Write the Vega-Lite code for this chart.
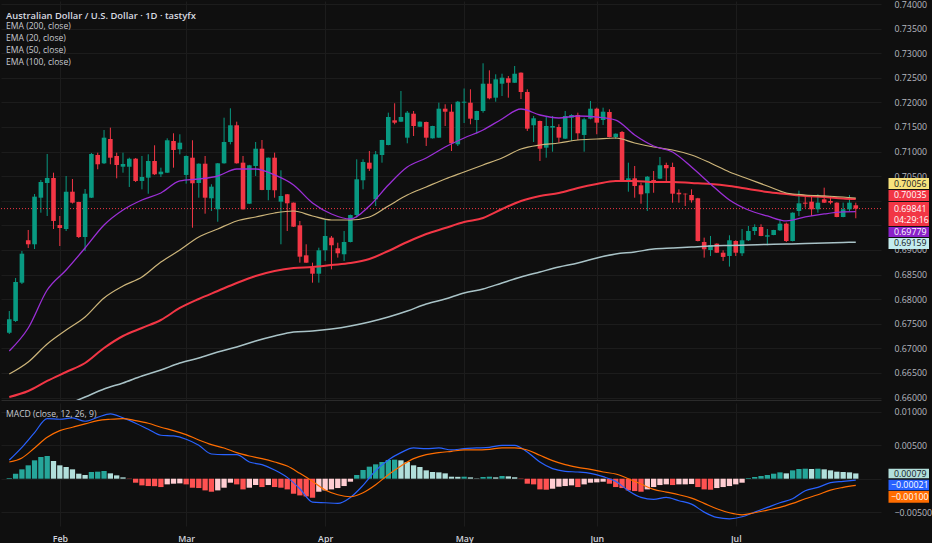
{
  "$schema": "https://vega.github.io/schema/vega-lite/v6.json",
  "background": "#0f0f0f",
  "padding": {"left": 0, "top": 0, "right": 0, "bottom": 0},
  "autosize": {"type": "pad"},
  "spacing": 0,
  "config": {
    "view": {"stroke": null},
    "font": "Open Sans",
    "axis": {"labelFont": "Open Sans", "gridColor": "#1c1c1c", "gridWidth": 1, "labelOverlap": false}
  },
  "resolve": {"scale": {"x": "independent", "y": "independent"}},
  "datasets": {
    "bars": [
      {"i":0,"o":0.67319,"h":0.6776,"l":0.67293,"c":0.67592,"hist":0.0001,"hc":"up+"},
      {"i":1,"o":0.67557,"h":0.68431,"l":0.67537,"c":0.6835,"hist":0.00075,"hc":"up+"},
      {"i":2,"o":0.68336,"h":0.6898,"l":0.68309,"c":0.68925,"hist":0.0014,"hc":"up+"},
      {"i":3,"o":0.69198,"h":0.69407,"l":0.69041,"c":0.69116,"hist":0.002,"hc":"up+"},
      {"i":4,"o":0.69116,"h":0.70138,"l":0.6902,"c":0.70084,"hist":0.00275,"hc":"up+"},
      {"i":5,"o":0.70063,"h":0.70423,"l":0.69758,"c":0.70382,"hist":0.00325,"hc":"up+"},
      {"i":6,"o":0.70362,"h":0.70951,"l":0.69691,"c":0.70464,"hist":0.0034,"hc":"up+"},
      {"i":7,"o":0.70464,"h":0.70571,"l":0.69427,"c":0.6959,"hist":0.00265,"hc":"down+"},
      {"i":8,"o":0.69508,"h":0.69691,"l":0.69081,"c":0.69447,"hist":0.002,"hc":"down+"},
      {"i":9,"o":0.69427,"h":0.70504,"l":0.69386,"c":0.70185,"hist":0.00175,"hc":"down+"},
      {"i":10,"o":0.70185,"h":0.70443,"l":0.69945,"c":0.69962,"hist":0.0014,"hc":"down+"},
      {"i":11,"o":0.69976,"h":0.6998,"l":0.69244,"c":0.69264,"hist":0.00075,"hc":"down+"},
      {"i":12,"o":0.69264,"h":0.7024,"l":0.6898,"c":0.70144,"hist":0.00055,"hc":"down+"},
      {"i":13,"o":0.70063,"h":0.70972,"l":0.70057,"c":0.70951,"hist":0.001,"hc":"up+"},
      {"i":14,"o":0.70931,"h":0.70978,"l":0.7064,"c":0.70742,"hist":0.00105,"hc":"up+"},
      {"i":15,"o":0.70762,"h":0.71439,"l":0.70748,"c":0.71283,"hist":0.00115,"hc":"up+"},
      {"i":16,"o":0.71256,"h":0.71486,"l":0.70742,"c":0.70876,"hist":0.0008,"hc":"down+"},
      {"i":17,"o":0.70911,"h":0.70978,"l":0.70457,"c":0.70728,"hist":0.0005,"hc":"down+"},
      {"i":18,"o":0.70693,"h":0.70978,"l":0.70571,"c":0.70748,"hist":0.0002,"hc":"down+"},
      {"i":19,"o":0.70693,"h":0.70876,"l":0.70281,"c":0.70856,"hist":-0.00005,"hc":"down-"},
      {"i":20,"o":0.70856,"h":0.7087,"l":0.70382,"c":0.70403,"hist":-0.0006,"hc":"down-"},
      {"i":21,"o":0.70403,"h":0.70911,"l":0.70233,"c":0.70484,"hist":-0.001,"hc":"down-"},
      {"i":22,"o":0.7047,"h":0.70945,"l":0.70144,"c":0.70809,"hist":-0.0011,"hc":"down-"},
      {"i":23,"o":0.70809,"h":0.71128,"l":0.70525,"c":0.70539,"hist":-0.00112,"hc":"down-"},
      {"i":24,"o":0.70539,"h":0.70673,"l":0.70484,"c":0.70592,"hist":-0.00125,"hc":"down-"},
      {"i":25,"o":0.70571,"h":0.7127,"l":0.70565,"c":0.7123,"hist":-0.00085,"hc":"up-"},
      {"i":26,"o":0.71216,"h":0.71372,"l":0.70673,"c":0.71033,"hist":-0.00075,"hc":"up-"},
      {"i":27,"o":0.71047,"h":0.71352,"l":0.70945,"c":0.71181,"hist":-0.0007,"hc":"up-"},
      {"i":28,"o":0.70525,"h":0.70921,"l":0.70348,"c":0.70911,"hist":-0.00085,"hc":"down-"},
      {"i":29,"o":0.70876,"h":0.7123,"l":0.69453,"c":0.70356,"hist":-0.00135,"hc":"down-"},
      {"i":30,"o":0.70362,"h":0.7076,"l":0.70063,"c":0.70754,"hist":-0.0014,"hc":"down-"},
      {"i":31,"o":0.70754,"h":0.70911,"l":0.69738,"c":0.70063,"hist":-0.00175,"hc":"down-"},
      {"i":32,"o":0.70051,"h":0.70336,"l":0.69793,"c":0.70287,"hist":-0.00195,"hc":"down-"},
      {"i":33,"o":0.69827,"h":0.70768,"l":0.69575,"c":0.70762,"hist":-0.00175,"hc":"up-"},
      {"i":34,"o":0.70762,"h":0.71689,"l":0.70755,"c":0.71195,"hist":-0.00135,"hc":"up-"},
      {"i":35,"o":0.71195,"h":0.7188,"l":0.71148,"c":0.71535,"hist":-0.0006,"hc":"up-"},
      {"i":36,"o":0.71535,"h":0.71608,"l":0.70755,"c":0.70762,"hist":-0.00085,"hc":"down-"},
      {"i":37,"o":0.70775,"h":0.70911,"l":0.6982,"c":0.69827,"hist":-0.0016,"hc":"down-"},
      {"i":38,"o":0.69941,"h":0.7073,"l":0.69935,"c":0.70722,"hist":-0.00135,"hc":"up-"},
      {"i":39,"o":0.70707,"h":0.71195,"l":0.70504,"c":0.71059,"hist":-0.00095,"hc":"up-"},
      {"i":40,"o":0.71059,"h":0.71236,"l":0.70215,"c":0.7022,"hist":-0.00125,"hc":"down-"},
      {"i":41,"o":0.7022,"h":0.7088,"l":0.7001,"c":0.70876,"hist":-0.00095,"hc":"up-"},
      {"i":42,"o":0.70876,"h":0.70978,"l":0.70063,"c":0.70214,"hist":-0.00125,"hc":"down-"},
      {"i":43,"o":0.69982,"h":0.7062,"l":0.69116,"c":0.70098,"hist":-0.00135,"hc":"down-"},
      {"i":44,"o":0.70132,"h":0.70138,"l":0.69386,"c":0.69949,"hist":-0.0016,"hc":"down-"},
      {"i":45,"o":0.69962,"h":0.69965,"l":0.69468,"c":0.69474,"hist":-0.00225,"hc":"down-"},
      {"i":46,"o":0.69502,"h":0.6959,"l":0.68742,"c":0.68864,"hist":-0.0025,"hc":"down-"},
      {"i":47,"o":0.68892,"h":0.69116,"l":0.68738,"c":0.68742,"hist":-0.00265,"hc":"down-"},
      {"i":48,"o":0.68641,"h":0.68742,"l":0.68336,"c":0.68518,"hist":-0.00285,"hc":"down-"},
      {"i":49,"o":0.68518,"h":0.69047,"l":0.68336,"c":0.68994,"hist":-0.00195,"hc":"up-"},
      {"i":50,"o":0.68994,"h":0.69624,"l":0.68777,"c":0.69285,"hist":-0.00175,"hc":"up-"},
      {"i":51,"o":0.69251,"h":0.69285,"l":0.68607,"c":0.69096,"hist":-0.0016,"hc":"up-"},
      {"i":52,"o":0.69035,"h":0.69148,"l":0.68845,"c":0.68933,"hist":-0.0014,"hc":"up-"},
      {"i":53,"o":0.68913,"h":0.69386,"l":0.68777,"c":0.69163,"hist":-0.0011,"hc":"up-"},
      {"i":54,"o":0.69163,"h":0.6972,"l":0.69155,"c":0.69711,"hist":-0.00045,"hc":"up-"},
      {"i":55,"o":0.69711,"h":0.70843,"l":0.69657,"c":0.70437,"hist":0.00055,"hc":"up+"},
      {"i":56,"o":0.70417,"h":0.70843,"l":0.70233,"c":0.70789,"hist":0.0013,"hc":"up+"},
      {"i":57,"o":0.70775,"h":0.71012,"l":0.70606,"c":0.70652,"hist":0.0018,"hc":"up+"},
      {"i":58,"o":0.7003,"h":0.71012,"l":0.69894,"c":0.70945,"hist":0.00215,"hc":"up+"},
      {"i":59,"o":0.70931,"h":0.7124,"l":0.70775,"c":0.71236,"hist":0.0025,"hc":"up+"},
      {"i":60,"o":0.71134,"h":0.71791,"l":0.71128,"c":0.71703,"hist":0.0028,"hc":"up+"},
      {"i":61,"o":0.71636,"h":0.71982,"l":0.71555,"c":0.71588,"hist":0.00285,"hc":"up+"},
      {"i":62,"o":0.71608,"h":0.72232,"l":0.716,"c":0.71703,"hist":0.00275,"hc":"down+"},
      {"i":63,"o":0.71283,"h":0.71825,"l":0.71169,"c":0.71791,"hist":0.0025,"hc":"down+"},
      {"i":64,"o":0.7177,"h":0.71825,"l":0.71317,"c":0.7152,"hist":0.002,"hc":"down+"},
      {"i":65,"o":0.71506,"h":0.71615,"l":0.715,"c":0.71608,"hist":0.00175,"hc":"down+"},
      {"i":66,"o":0.71602,"h":0.7161,"l":0.71114,"c":0.71283,"hist":0.00125,"hc":"down+"},
      {"i":67,"o":0.7127,"h":0.71525,"l":0.71265,"c":0.7152,"hist":0.001,"hc":"down+"},
      {"i":68,"o":0.71283,"h":0.71994,"l":0.7128,"c":0.71872,"hist":0.00095,"hc":"down+"},
      {"i":69,"o":0.71872,"h":0.71962,"l":0.7152,"c":0.71811,"hist":0.0008,"hc":"down+"},
      {"i":70,"o":0.71811,"h":0.71962,"l":0.71012,"c":0.71169,"hist":0.0003,"hc":"down+"},
      {"i":71,"o":0.71148,"h":0.72029,"l":0.71114,"c":0.72014,"hist":0.00028,"hc":"down+"},
      {"i":72,"o":0.71994,"h":0.72283,"l":0.71581,"c":0.72014,"hist":0.0003,"hc":"up+"},
      {"i":73,"o":0.71994,"h":0.72266,"l":0.71555,"c":0.71669,"hist":0.0002,"hc":"down+"},
      {"i":74,"o":0.71642,"h":0.7183,"l":0.71364,"c":0.71825,"hist":0.00005,"hc":"down+"},
      {"i":75,"o":0.71825,"h":0.72795,"l":0.71791,"c":0.7238,"hist":0.00025,"hc":"up+"},
      {"i":76,"o":0.7238,"h":0.72652,"l":0.72063,"c":0.72083,"hist":0.0003,"hc":"up+"},
      {"i":77,"o":0.72096,"h":0.72571,"l":0.72014,"c":0.72469,"hist":0.0002,"hc":"down+"},
      {"i":78,"o":0.7238,"h":0.72583,"l":0.7213,"c":0.72502,"hist":0.0004,"hc":"up+"},
      {"i":79,"o":0.7249,"h":0.72537,"l":0.72096,"c":0.724,"hist":0.00035,"hc":"down+"},
      {"i":80,"o":0.724,"h":0.7274,"l":0.72395,"c":0.72583,"hist":0.0002,"hc":"down+"},
      {"i":81,"o":0.72604,"h":0.7261,"l":0.72069,"c":0.72211,"hist":-0.00005,"hc":"down-"},
      {"i":82,"o":0.72211,"h":0.72266,"l":0.71419,"c":0.71466,"hist":-0.00075,"hc":"down-"},
      {"i":83,"o":0.71535,"h":0.71724,"l":0.71195,"c":0.71677,"hist":-0.00085,"hc":"down-"},
      {"i":84,"o":0.71622,"h":0.7163,"l":0.70809,"c":0.71059,"hist":-0.0016,"hc":"down-"},
      {"i":85,"o":0.7108,"h":0.71724,"l":0.70876,"c":0.7152,"hist":-0.00165,"hc":"down-"},
      {"i":86,"o":0.71486,"h":0.71724,"l":0.70998,"c":0.7152,"hist":-0.0015,"hc":"up-"},
      {"i":87,"o":0.715,"h":0.71555,"l":0.71181,"c":0.71283,"hist":-0.0012,"hc":"up-"},
      {"i":88,"o":0.71263,"h":0.71825,"l":0.71255,"c":0.71724,"hist":-0.0011,"hc":"up-"},
      {"i":89,"o":0.71689,"h":0.71758,"l":0.71216,"c":0.71744,"hist":-0.001,"hc":"up-"},
      {"i":90,"o":0.71744,"h":0.71791,"l":0.71236,"c":0.71372,"hist":-0.00125,"hc":"down-"},
      {"i":91,"o":0.71338,"h":0.71689,"l":0.70998,"c":0.71656,"hist":-0.00085,"hc":"up-"},
      {"i":92,"o":0.71669,"h":0.72029,"l":0.71656,"c":0.71872,"hist":-0.0006,"hc":"up-"},
      {"i":93,"o":0.71872,"h":0.71893,"l":0.71352,"c":0.71588,"hist":-0.00055,"hc":"up-"},
      {"i":94,"o":0.71642,"h":0.71893,"l":0.71541,"c":0.71811,"hist":-0.00045,"hc":"up-"},
      {"i":95,"o":0.71805,"h":0.71859,"l":0.7129,"c":0.71297,"hist":-0.00075,"hc":"down-"},
      {"i":96,"o":0.71297,"h":0.7137,"l":0.71256,"c":0.71364,"hist":-0.00125,"hc":"down-"},
      {"i":97,"o":0.71399,"h":0.71419,"l":0.70415,"c":0.70423,"hist":-0.0014,"hc":"down-"},
      {"i":98,"o":0.70423,"h":0.70775,"l":0.70185,"c":0.70457,"hist":-0.00175,"hc":"down-"},
      {"i":99,"o":0.70457,"h":0.70707,"l":0.70063,"c":0.70301,"hist":-0.00185,"hc":"down-"},
      {"i":100,"o":0.70315,"h":0.70368,"l":0.69941,"c":0.70132,"hist":-0.00195,"hc":"down-"},
      {"i":101,"o":0.70153,"h":0.70504,"l":0.69793,"c":0.7049,"hist":-0.0016,"hc":"up-"},
      {"i":102,"o":0.70423,"h":0.70606,"l":0.70164,"c":0.70403,"hist":-0.00125,"hc":"up-"},
      {"i":103,"o":0.7045,"h":0.7089,"l":0.7044,"c":0.70722,"hist":-0.00095,"hc":"up-"},
      {"i":104,"o":0.70728,"h":0.70775,"l":0.70403,"c":0.70661,"hist":-0.00085,"hc":"up-"},
      {"i":105,"o":0.70687,"h":0.70775,"l":0.69962,"c":0.70144,"hist":-0.00095,"hc":"down-"},
      {"i":106,"o":0.70164,"h":0.70233,"l":0.69962,"c":0.70132,"hist":-0.00085,"hc":"up-"},
      {"i":107,"o":0.70144,"h":0.7015,"l":0.69894,"c":0.70132,"hist":-0.00085,"hc":"up-"},
      {"i":108,"o":0.70118,"h":0.70233,"l":0.69962,"c":0.7001,"hist":-0.0008,"hc":"up-"},
      {"i":109,"o":0.70051,"h":0.7006,"l":0.69175,"c":0.69183,"hist":-0.00125,"hc":"down-"},
      {"i":110,"o":0.69163,"h":0.69251,"l":0.68845,"c":0.69014,"hist":-0.0016,"hc":"down-"},
      {"i":111,"o":0.69,"h":0.69285,"l":0.68878,"c":0.69102,"hist":-0.00165,"hc":"down-"},
      {"i":112,"o":0.69128,"h":0.69135,"l":0.6894,"c":0.68945,"hist":-0.0014,"hc":"up-"},
      {"i":113,"o":0.68945,"h":0.68994,"l":0.68777,"c":0.68859,"hist":-0.00125,"hc":"up-"},
      {"i":114,"o":0.68878,"h":0.69299,"l":0.68662,"c":0.69197,"hist":-0.0011,"hc":"up-"},
      {"i":115,"o":0.69183,"h":0.69197,"l":0.68878,"c":0.68945,"hist":-0.00085,"hc":"up-"},
      {"i":116,"o":0.68933,"h":0.69427,"l":0.68878,"c":0.69197,"hist":-0.0006,"hc":"up-"},
      {"i":117,"o":0.69197,"h":0.69488,"l":0.69183,"c":0.69386,"hist":0.0001,"hc":"up+"},
      {"i":118,"o":0.69386,"h":0.69522,"l":0.69305,"c":0.69468,"hist":0.00025,"hc":"up+"},
      {"i":119,"o":0.69468,"h":0.69522,"l":0.6928,"c":0.69285,"hist":0.0004,"hc":"up+"},
      {"i":120,"o":0.69271,"h":0.69427,"l":0.69096,"c":0.69299,"hist":0.00055,"hc":"up+"},
      {"i":121,"o":0.69305,"h":0.6941,"l":0.693,"c":0.69407,"hist":0.00075,"hc":"up+"},
      {"i":122,"o":0.694,"h":0.69624,"l":0.69386,"c":0.69535,"hist":0.00095,"hc":"up+"},
      {"i":123,"o":0.69535,"h":0.69556,"l":0.69163,"c":0.69183,"hist":0.0008,"hc":"down+"},
      {"i":124,"o":0.69183,"h":0.69765,"l":0.69175,"c":0.69758,"hist":0.00125,"hc":"up+"},
      {"i":125,"o":0.69793,"h":0.70207,"l":0.69691,"c":0.69949,"hist":0.00145,"hc":"up+"},
      {"i":126,"o":0.69962,"h":0.70098,"l":0.6986,"c":0.69941,"hist":0.0015,"hc":"up+"},
      {"i":127,"o":0.69982,"h":0.70112,"l":0.69691,"c":0.69827,"hist":0.00145,"hc":"down+"},
      {"i":128,"o":0.69827,"h":0.70132,"l":0.69758,"c":0.69962,"hist":0.0015,"hc":"up+"},
      {"i":129,"o":0.7003,"h":0.70267,"l":0.69955,"c":0.69962,"hist":0.0014,"hc":"down+"},
      {"i":130,"o":0.69996,"h":0.70098,"l":0.69929,"c":0.69962,"hist":0.00125,"hc":"down+"},
      {"i":131,"o":0.69962,"h":0.6997,"l":0.69665,"c":0.69671,"hist":0.00105,"hc":"down+"},
      {"i":132,"o":0.69671,"h":0.69962,"l":0.69665,"c":0.69827,"hist":0.001,"hc":"down+"},
      {"i":133,"o":0.69827,"h":0.70118,"l":0.69793,"c":0.69962,"hist":0.00095,"hc":"down+"},
      {"i":134,"o":0.69909,"h":0.69962,"l":0.69645,"c":0.69841,"hist":0.00079,"hc":"down+"}
    ],
    "ema": [
      {"i":0,"e20":0.66947,"e50":0.6648,"e100":0.66012,"e200":null},
      {"i":3,"e20":0.67415,"e50":0.66724,"e100":0.66134,"e200":null},
      {"i":6,"e20":0.68187,"e50":0.6709,"e100":0.66338,"e200":null},
      {"i":9,"e20":0.68594,"e50":0.67374,"e100":0.6652,"e200":0.6585},
      {"i":12,"e20":0.69041,"e50":0.67638,"e100":0.66703,"e200":0.66012},
      {"i":15,"e20":0.69508,"e50":0.68025,"e100":0.67008,"e200":0.66175},
      {"i":18,"e20":0.69813,"e50":0.68268,"e100":0.67252,"e200":0.66297},
      {"i":21,"e20":0.70016,"e50":0.68451,"e100":0.67415,"e200":0.66439},
      {"i":24,"e20":0.70159,"e50":0.68756,"e100":0.67577,"e200":0.66561},
      {"i":27,"e20":0.70403,"e50":0.69,"e100":0.67821,"e200":0.66703},
      {"i":30,"e20":0.70443,"e50":0.69264,"e100":0.68004,"e200":0.66805},
      {"i":33,"e20":0.70504,"e50":0.69427,"e100":0.68167,"e200":0.66927},
      {"i":36,"e20":0.70646,"e50":0.6959,"e100":0.6833,"e200":0.67029},
      {"i":39,"e20":0.70646,"e50":0.69671,"e100":0.68472,"e200":0.6715},
      {"i":42,"e20":0.70525,"e50":0.69752,"e100":0.68573,"e200":0.67252},
      {"i":45,"e20":0.70321,"e50":0.69793,"e100":0.68634,"e200":0.67333},
      {"i":48,"e20":0.69955,"e50":0.69691,"e100":0.68654,"e200":0.67354},
      {"i":51,"e20":0.69732,"e50":0.6961,"e100":0.68695,"e200":0.67394},
      {"i":54,"e20":0.6963,"e50":0.6961,"e100":0.68736,"e200":0.67455},
      {"i":57,"e20":0.69894,"e50":0.69671,"e100":0.68817,"e200":0.67537},
      {"i":60,"e20":0.70321,"e50":0.69894,"e100":0.6898,"e200":0.67638},
      {"i":63,"e20":0.70687,"e50":0.70118,"e100":0.69163,"e200":0.6776},
      {"i":66,"e20":0.7087,"e50":0.70281,"e100":0.69325,"e200":0.67903},
      {"i":69,"e20":0.71093,"e50":0.70443,"e100":0.69447,"e200":0.68004},
      {"i":72,"e20":0.71276,"e50":0.70585,"e100":0.69569,"e200":0.68126},
      {"i":75,"e20":0.71439,"e50":0.70728,"e100":0.69651,"e200":0.68207},
      {"i":78,"e20":0.71663,"e50":0.7087,"e100":0.69833,"e200":0.6833},
      {"i":81,"e20":0.71866,"e50":0.71053,"e100":0.69996,"e200":0.68451},
      {"i":84,"e20":0.71744,"e50":0.71134,"e100":0.70098,"e200":0.68553},
      {"i":87,"e20":0.71683,"e50":0.71175,"e100":0.70159,"e200":0.68654},
      {"i":90,"e20":0.71724,"e50":0.71236,"e100":0.7026,"e200":0.68736},
      {"i":93,"e20":0.71703,"e50":0.71256,"e100":0.70342,"e200":0.68838},
      {"i":96,"e20":0.71642,"e50":0.71276,"e100":0.70403,"e200":0.68919},
      {"i":99,"e20":0.71338,"e50":0.71175,"e100":0.70403,"e200":0.6896},
      {"i":102,"e20":0.71114,"e50":0.71093,"e100":0.70382,"e200":0.6902},
      {"i":105,"e20":0.70992,"e50":0.71033,"e100":0.70382,"e200":0.69041},
      {"i":108,"e20":0.70687,"e50":0.70931,"e100":0.70362,"e200":0.69061},
      {"i":111,"e20":0.70342,"e50":0.70768,"e100":0.70342,"e200":0.69081},
      {"i":114,"e20":0.70016,"e50":0.70585,"e100":0.70301,"e200":0.69092},
      {"i":117,"e20":0.69813,"e50":0.70443,"e100":0.7024,"e200":0.69102},
      {"i":120,"e20":0.69691,"e50":0.70301,"e100":0.70179,"e200":0.69112},
      {"i":123,"e20":0.6959,"e50":0.70159,"e100":0.70138,"e200":0.69122},
      {"i":126,"e20":0.69671,"e50":0.70118,"e100":0.70098,"e200":0.6913},
      {"i":129,"e20":0.69732,"e50":0.70098,"e100":0.70077,"e200":0.69143},
      {"i":132,"e20":0.69773,"e50":0.70077,"e100":0.70048,"e200":0.69153},
      {"i":134,"e20":0.69779,"e50":0.70056,"e100":0.70035,"e200":0.69159}
    ],
    "macd": [
      {"i":0,"macd":0.0028,"signal":0.0025},{"i":2,"macd":0.0047,"signal":0.0031},
      {"i":4,"macd":0.0069,"signal":0.0046},{"i":6,"macd":0.009,"signal":0.0062},
      {"i":8,"macd":0.0089,"signal":0.0072},{"i":10,"macd":0.0091,"signal":0.0077},
      {"i":12,"macd":0.0086,"signal":0.0082},{"i":14,"macd":0.0092,"signal":0.0087},
      {"i":16,"macd":0.0097,"signal":0.0089},{"i":18,"macd":0.0091,"signal":0.009},
      {"i":20,"macd":0.0083,"signal":0.0087},{"i":22,"macd":0.0074,"signal":0.0083},
      {"i":24,"macd":0.0065,"signal":0.0077},{"i":26,"macd":0.0064,"signal":0.0072},
      {"i":28,"macd":0.0059,"signal":0.0066},{"i":30,"macd":0.005,"signal":0.0058},
      {"i":32,"macd":0.0037,"signal":0.0051},{"i":34,"macd":0.0036,"signal":0.0046},
      {"i":36,"macd":0.0036,"signal":0.0039},{"i":38,"macd":0.0025,"signal":0.0034},
      {"i":40,"macd":0.0021,"signal":0.003},{"i":42,"macd":0.0013,"signal":0.0025},
      {"i":44,"macd":0.0002,"signal":0.0019},{"i":46,"macd":-0.0015,"signal":0.0008},
      {"i":48,"macd":-0.0035,"signal":-0.0004},{"i":50,"macd":-0.0036,"signal":-0.0017},
      {"i":52,"macd":-0.0037,"signal":-0.0024},{"i":54,"macd":-0.0028,"signal":-0.0027},
      {"i":56,"macd":-0.001,"signal":-0.0021},{"i":58,"macd":0.0012,"signal":-0.0009},
      {"i":60,"macd":0.0028,"signal":0.0006},{"i":62,"macd":0.0039,"signal":0.0019},
      {"i":64,"macd":0.0046,"signal":0.003},{"i":66,"macd":0.0045,"signal":0.0036},
      {"i":68,"macd":0.0046,"signal":0.0039},{"i":70,"macd":0.0043,"signal":0.0041},
      {"i":72,"macd":0.0045,"signal":0.0043},{"i":74,"macd":0.0046,"signal":0.0043},
      {"i":76,"macd":0.0047,"signal":0.0044},{"i":78,"macd":0.005,"signal":0.0046},
      {"i":80,"macd":0.005,"signal":0.0046},{"i":82,"macd":0.004,"signal":0.0043},
      {"i":84,"macd":0.0025,"signal":0.0035},{"i":86,"macd":0.0015,"signal":0.0027},
      {"i":88,"macd":0.0011,"signal":0.0021},{"i":90,"macd":0.001,"signal":0.0017},
      {"i":92,"macd":0.0008,"signal":0.0014},{"i":94,"macd":0.0003,"signal":0.001},
      {"i":96,"macd":-0.0004,"signal":0.0007},{"i":98,"macd":-0.0018,"signal":0.0},
      {"i":100,"macd":-0.0028,"signal":-0.0008},{"i":102,"macd":-0.0031,"signal":-0.0016},
      {"i":104,"macd":-0.0028,"signal":-0.002},{"i":106,"macd":-0.0033,"signal":-0.0024},
      {"i":108,"macd":-0.0038,"signal":-0.0029},{"i":110,"macd":-0.005,"signal":-0.0037},
      {"i":112,"macd":-0.0058,"signal":-0.0045},{"i":114,"macd":-0.006,"signal":-0.0051},
      {"i":116,"macd":-0.0057,"signal":-0.0054},{"i":118,"macd":-0.005,"signal":-0.0051},
      {"i":120,"macd":-0.0043,"signal":-0.0047},{"i":122,"macd":-0.0036,"signal":-0.0043},
      {"i":124,"macd":-0.003,"signal":-0.0037},{"i":126,"macd":-0.0018,"signal":-0.003},
      {"i":128,"macd":-0.0013,"signal":-0.0024},{"i":130,"macd":-0.0006,"signal":-0.0017},
      {"i":132,"macd":-0.0004,"signal":-0.0013},{"i":134,"macd":-0.00021,"signal":-0.001}
    ],
    "ptags": [
      {"s":"e50","value":0.70056,"label":"0.70056"},
      {"s":"e100","value":0.70035,"label":"0.70035"},
      {"s":"price","value":0.69841,"label":"0.69841","timer":"04:29:16"},
      {"s":"e20","value":0.69779,"label":"0.69779"},
      {"s":"e200","value":0.69159,"label":"0.69159"}
    ],
    "mtags": [
      {"s":"hist","value":0.00079,"label":"0.00079"},
      {"s":"macd","value":-0.00021,"label":"\u22120.00021"},
      {"s":"signal","value":-0.001,"label":"\u22120.00100"}
    ]
  },
  "vconcat": [
    {
      "width": 880,
      "height": 399,
      "title": {
        "text": "Australian Dollar / U.S. Dollar · 1D · tastyfx",
        "subtitle": ["EMA (200, close)", "EMA (20, close)", "EMA (50, close)", "EMA (100, close)"],
        "anchor": "start", "frame": "group", "orient": "top", "offset": -68, "dx": 5,
        "font": "Open Sans", "fontSize": 9.4, "fontWeight": 600, "color": "#d8dae0",
        "subtitleFont": "Open Sans", "subtitleFontSize": 8.6, "subtitleColor": "#c8cad0",
        "subtitleLineHeight": 12.2, "subtitlePadding": 0.5
      },
      "encoding": {
        "x": {
          "field": "i", "type": "quantitative",
          "scale": {"domain": [-0.52, 137.2], "nice": false, "zero": false},
          "axis": {"values": [8, 28, 50, 72, 93, 115], "labels": false, "ticks": false, "grid": true,
                   "domain": true, "domainColor": "#2b2b2b", "title": null}
        }
      },
      "layer": [
        {
          "data": {"name": "bars"},
          "mark": {"type": "rule", "strokeWidth": 1},
          "encoding": {
            "y": {
              "field": "l", "type": "quantitative", "title": null,
              "scale": {"domain": [0.65951, 0.74061], "nice": false, "zero": false},
              "axis": {"orient": "right", "title": null, "format": ".5f", "labelOverlap": false, "values": [0.66, 0.665, 0.67, 0.675, 0.68, 0.685, 0.69, 0.695, 0.7, 0.705, 0.71, 0.715, 0.72, 0.725, 0.73, 0.735, 0.74], "labelExpr": "abs(datum.value - 0.7) < 0.0001 || abs(datum.value - 0.695) < 0.0001 ? '' : datum.label", "labelColor": "#b8bac0", "labelFontSize": 8.8, "labelPadding": 13, "ticks": false, "domain": false, "grid": true}
            },
            "y2": {"field": "h"},
            "color": {"condition": {"test": "datum.c >= datum.o", "value": "#089981"}, "value": "#f23645"}
          }
        },
        {
          "data": {"name": "ptags"},
          "transform": [{"filter": "datum.s == 'price'"}],
          "mark": {"type": "rule", "color": "#f23645", "strokeDash": [1, 2], "strokeWidth": 1},
          "encoding": {"x": {"value": 0}, "x2": {"value": "width"},
            "y": {"field": "value", "type": "quantitative", "title": null,
              "axis": {"orient": "right", "title": null, "format": ".5f", "labelOverlap": false, "values": [0.66, 0.665, 0.67, 0.675, 0.68, 0.685, 0.69, 0.695, 0.7, 0.705, 0.71, 0.715, 0.72, 0.725, 0.73, 0.735, 0.74], "labelExpr": "abs(datum.value - 0.7) < 0.0001 || abs(datum.value - 0.695) < 0.0001 ? '' : datum.label", "labelColor": "#b8bac0", "labelFontSize": 8.8, "labelPadding": 13, "ticks": false, "domain": false, "grid": true}}}
        },
        {
          "data": {"name": "bars"},
          "mark": {"type": "bar", "size": 4.6},
          "encoding": {
            "y": {"field": "o", "type": "quantitative", "title": null,
              "axis": {"orient": "right", "title": null, "format": ".5f", "labelOverlap": false, "values": [0.66, 0.665, 0.67, 0.675, 0.68, 0.685, 0.69, 0.695, 0.7, 0.705, 0.71, 0.715, 0.72, 0.725, 0.73, 0.735, 0.74], "labelExpr": "abs(datum.value - 0.7) < 0.0001 || abs(datum.value - 0.695) < 0.0001 ? '' : datum.label", "labelColor": "#b8bac0", "labelFontSize": 8.8, "labelPadding": 13, "ticks": false, "domain": false, "grid": true}},
            "y2": {"field": "c"},
            "color": {"condition": {"test": "datum.c >= datum.o", "value": "#089981"}, "value": "#f23645"}
          }
        },
        {
          "data": {"name": "ema"},
          "mark": {"type": "line", "color": "#a9c3c7", "strokeWidth": 1.5, "clip": true, "interpolate": "monotone"},
          "encoding": {"y": {"field": "e200", "type": "quantitative", "title": null,
            "axis": {"orient": "right", "title": null, "format": ".5f", "labelOverlap": false, "values": [0.66, 0.665, 0.67, 0.675, 0.68, 0.685, 0.69, 0.695, 0.7, 0.705, 0.71, 0.715, 0.72, 0.725, 0.73, 0.735, 0.74], "labelExpr": "abs(datum.value - 0.7) < 0.0001 || abs(datum.value - 0.695) < 0.0001 ? '' : datum.label", "labelColor": "#b8bac0", "labelFontSize": 8.8, "labelPadding": 13, "ticks": false, "domain": false, "grid": true}}}
        },
        {
          "data": {"name": "ema"},
          "mark": {"type": "line", "color": "#f23645", "strokeWidth": 2, "clip": true, "interpolate": "monotone"},
          "encoding": {"y": {"field": "e100", "type": "quantitative", "title": null,
            "axis": {"orient": "right", "title": null, "format": ".5f", "labelOverlap": false, "values": [0.66, 0.665, 0.67, 0.675, 0.68, 0.685, 0.69, 0.695, 0.7, 0.705, 0.71, 0.715, 0.72, 0.725, 0.73, 0.735, 0.74], "labelExpr": "abs(datum.value - 0.7) < 0.0001 || abs(datum.value - 0.695) < 0.0001 ? '' : datum.label", "labelColor": "#b8bac0", "labelFontSize": 8.8, "labelPadding": 13, "ticks": false, "domain": false, "grid": true}}}
        },
        {
          "data": {"name": "ema"},
          "mark": {"type": "line", "color": "#cdb57a", "strokeWidth": 1.2, "clip": true, "interpolate": "monotone"},
          "encoding": {"y": {"field": "e50", "type": "quantitative", "title": null,
            "axis": {"orient": "right", "title": null, "format": ".5f", "labelOverlap": false, "values": [0.66, 0.665, 0.67, 0.675, 0.68, 0.685, 0.69, 0.695, 0.7, 0.705, 0.71, 0.715, 0.72, 0.725, 0.73, 0.735, 0.74], "labelExpr": "abs(datum.value - 0.7) < 0.0001 || abs(datum.value - 0.695) < 0.0001 ? '' : datum.label", "labelColor": "#b8bac0", "labelFontSize": 8.8, "labelPadding": 13, "ticks": false, "domain": false, "grid": true}}}
        },
        {
          "data": {"name": "ema"},
          "mark": {"type": "line", "color": "#9b2fd6", "strokeWidth": 1.3, "clip": true, "interpolate": "monotone"},
          "encoding": {"y": {"field": "e20", "type": "quantitative", "title": null,
            "axis": {"orient": "right", "title": null, "format": ".5f", "labelOverlap": false, "values": [0.66, 0.665, 0.67, 0.675, 0.68, 0.685, 0.69, 0.695, 0.7, 0.705, 0.71, 0.715, 0.72, 0.725, 0.73, 0.735, 0.74], "labelExpr": "abs(datum.value - 0.7) < 0.0001 || abs(datum.value - 0.695) < 0.0001 ? '' : datum.label", "labelColor": "#b8bac0", "labelFontSize": 8.8, "labelPadding": 13, "ticks": false, "domain": false, "grid": true}}}
        },
        {
          "data": {"name": "ptags"},
          "transform": [{"filter": "datum.s == 'e50'"}],
          "layer": [
            {"mark": {"type": "rect", "color": "#f7e27c", "xOffset": 7.5, "x2Offset": 48, "yOffset": -20, "y2Offset": -9},
             "encoding": {"x": {"value": "width"}, "x2": {"value": "width"}, "y2": {"field": "value"},
               "y": {"field": "value", "type": "quantitative", "title": null, "axis": {"orient": "right", "title": null, "format": ".5f", "labelOverlap": false, "values": [0.66, 0.665, 0.67, 0.675, 0.68, 0.685, 0.69, 0.695, 0.7, 0.705, 0.71, 0.715, 0.72, 0.725, 0.73, 0.735, 0.74], "labelExpr": "abs(datum.value - 0.7) < 0.0001 || abs(datum.value - 0.695) < 0.0001 ? '' : datum.label", "labelColor": "#b8bac0", "labelFontSize": 8.8, "labelPadding": 13, "ticks": false, "domain": false, "grid": true}}}},
            {"mark": {"type": "text", "color": "#131722", "align": "left", "baseline": "middle", "dx": 13, "dy": -14.5, "fontSize": 8.8},
             "encoding": {"x": {"value": "width"}, "text": {"field": "label"},
               "y": {"field": "value", "type": "quantitative", "title": null, "axis": {"orient": "right", "title": null, "format": ".5f", "labelOverlap": false, "values": [0.66, 0.665, 0.67, 0.675, 0.68, 0.685, 0.69, 0.695, 0.7, 0.705, 0.71, 0.715, 0.72, 0.725, 0.73, 0.735, 0.74], "labelExpr": "abs(datum.value - 0.7) < 0.0001 || abs(datum.value - 0.695) < 0.0001 ? '' : datum.label", "labelColor": "#b8bac0", "labelFontSize": 8.8, "labelPadding": 13, "ticks": false, "domain": false, "grid": true}}}}
          ]
        },
        {
          "data": {"name": "ptags"},
          "transform": [{"filter": "datum.s == 'e100'"}],
          "layer": [
            {"mark": {"type": "rect", "color": "#f23645", "xOffset": 7.5, "x2Offset": 48, "yOffset": -9.1, "y2Offset": 1.9},
             "encoding": {"x": {"value": "width"}, "x2": {"value": "width"}, "y2": {"field": "value"},
               "y": {"field": "value", "type": "quantitative", "title": null, "axis": {"orient": "right", "title": null, "format": ".5f", "labelOverlap": false, "values": [0.66, 0.665, 0.67, 0.675, 0.68, 0.685, 0.69, 0.695, 0.7, 0.705, 0.71, 0.715, 0.72, 0.725, 0.73, 0.735, 0.74], "labelExpr": "abs(datum.value - 0.7) < 0.0001 || abs(datum.value - 0.695) < 0.0001 ? '' : datum.label", "labelColor": "#b8bac0", "labelFontSize": 8.8, "labelPadding": 13, "ticks": false, "domain": false, "grid": true}}}},
            {"mark": {"type": "text", "color": "#ffffff", "align": "left", "baseline": "middle", "dx": 13, "dy": -3.6, "fontSize": 8.8},
             "encoding": {"x": {"value": "width"}, "text": {"field": "label"},
               "y": {"field": "value", "type": "quantitative", "title": null, "axis": {"orient": "right", "title": null, "format": ".5f", "labelOverlap": false, "values": [0.66, 0.665, 0.67, 0.675, 0.68, 0.685, 0.69, 0.695, 0.7, 0.705, 0.71, 0.715, 0.72, 0.725, 0.73, 0.735, 0.74], "labelExpr": "abs(datum.value - 0.7) < 0.0001 || abs(datum.value - 0.695) < 0.0001 ? '' : datum.label", "labelColor": "#b8bac0", "labelFontSize": 8.8, "labelPadding": 13, "ticks": false, "domain": false, "grid": true}}}}
          ]
        },
        {
          "data": {"name": "ptags"},
          "transform": [{"filter": "datum.s == 'price'"}],
          "layer": [
            {"mark": {"type": "rect", "color": "#f23645", "xOffset": 7.5, "x2Offset": 48, "yOffset": -6.6, "y2Offset": 17.4},
             "encoding": {"x": {"value": "width"}, "x2": {"value": "width"}, "y2": {"field": "value"},
               "y": {"field": "value", "type": "quantitative", "title": null, "axis": {"orient": "right", "title": null, "format": ".5f", "labelOverlap": false, "values": [0.66, 0.665, 0.67, 0.675, 0.68, 0.685, 0.69, 0.695, 0.7, 0.705, 0.71, 0.715, 0.72, 0.725, 0.73, 0.735, 0.74], "labelExpr": "abs(datum.value - 0.7) < 0.0001 || abs(datum.value - 0.695) < 0.0001 ? '' : datum.label", "labelColor": "#b8bac0", "labelFontSize": 8.8, "labelPadding": 13, "ticks": false, "domain": false, "grid": true}}}},
            {"mark": {"type": "text", "color": "#ffffff", "align": "left", "baseline": "middle", "dx": 13, "dy": 0, "fontSize": 8.8},
             "encoding": {"x": {"value": "width"}, "text": {"field": "label"},
               "y": {"field": "value", "type": "quantitative", "title": null, "axis": {"orient": "right", "title": null, "format": ".5f", "labelOverlap": false, "values": [0.66, 0.665, 0.67, 0.675, 0.68, 0.685, 0.69, 0.695, 0.7, 0.705, 0.71, 0.715, 0.72, 0.725, 0.73, 0.735, 0.74], "labelExpr": "abs(datum.value - 0.7) < 0.0001 || abs(datum.value - 0.695) < 0.0001 ? '' : datum.label", "labelColor": "#b8bac0", "labelFontSize": 8.8, "labelPadding": 13, "ticks": false, "domain": false, "grid": true}}}},
            {"mark": {"type": "text", "color": "#ffffff", "align": "left", "baseline": "middle", "dx": 13, "dy": 11.5, "fontSize": 8.8},
             "encoding": {"x": {"value": "width"}, "text": {"field": "timer"},
               "y": {"field": "value", "type": "quantitative", "title": null, "axis": {"orient": "right", "title": null, "format": ".5f", "labelOverlap": false, "values": [0.66, 0.665, 0.67, 0.675, 0.68, 0.685, 0.69, 0.695, 0.7, 0.705, 0.71, 0.715, 0.72, 0.725, 0.73, 0.735, 0.74], "labelExpr": "abs(datum.value - 0.7) < 0.0001 || abs(datum.value - 0.695) < 0.0001 ? '' : datum.label", "labelColor": "#b8bac0", "labelFontSize": 8.8, "labelPadding": 13, "ticks": false, "domain": false, "grid": true}}}}
          ]
        },
        {
          "data": {"name": "ptags"},
          "transform": [{"filter": "datum.s == 'e20'"}],
          "layer": [
            {"mark": {"type": "rect", "color": "#8a22c9", "xOffset": 7.5, "x2Offset": 48, "yOffset": 15.3, "y2Offset": 25.3},
             "encoding": {"x": {"value": "width"}, "x2": {"value": "width"}, "y2": {"field": "value"},
               "y": {"field": "value", "type": "quantitative", "title": null, "axis": {"orient": "right", "title": null, "format": ".5f", "labelOverlap": false, "values": [0.66, 0.665, 0.67, 0.675, 0.68, 0.685, 0.69, 0.695, 0.7, 0.705, 0.71, 0.715, 0.72, 0.725, 0.73, 0.735, 0.74], "labelExpr": "abs(datum.value - 0.7) < 0.0001 || abs(datum.value - 0.695) < 0.0001 ? '' : datum.label", "labelColor": "#b8bac0", "labelFontSize": 8.8, "labelPadding": 13, "ticks": false, "domain": false, "grid": true}}}},
            {"mark": {"type": "text", "color": "#ffffff", "align": "left", "baseline": "middle", "dx": 13, "dy": 20.3, "fontSize": 8.8},
             "encoding": {"x": {"value": "width"}, "text": {"field": "label"},
               "y": {"field": "value", "type": "quantitative", "title": null, "axis": {"orient": "right", "title": null, "format": ".5f", "labelOverlap": false, "values": [0.66, 0.665, 0.67, 0.675, 0.68, 0.685, 0.69, 0.695, 0.7, 0.705, 0.71, 0.715, 0.72, 0.725, 0.73, 0.735, 0.74], "labelExpr": "abs(datum.value - 0.7) < 0.0001 || abs(datum.value - 0.695) < 0.0001 ? '' : datum.label", "labelColor": "#b8bac0", "labelFontSize": 8.8, "labelPadding": 13, "ticks": false, "domain": false, "grid": true}}}}
          ]
        },
        {
          "data": {"name": "ptags"},
          "transform": [{"filter": "datum.s == 'e200'"}],
          "layer": [
            {"mark": {"type": "rect", "color": "#c3ecee", "xOffset": 7.5, "x2Offset": 48, "yOffset": -4.2, "y2Offset": 6.8},
             "encoding": {"x": {"value": "width"}, "x2": {"value": "width"}, "y2": {"field": "value"},
               "y": {"field": "value", "type": "quantitative", "title": null, "axis": {"orient": "right", "title": null, "format": ".5f", "labelOverlap": false, "values": [0.66, 0.665, 0.67, 0.675, 0.68, 0.685, 0.69, 0.695, 0.7, 0.705, 0.71, 0.715, 0.72, 0.725, 0.73, 0.735, 0.74], "labelExpr": "abs(datum.value - 0.7) < 0.0001 || abs(datum.value - 0.695) < 0.0001 ? '' : datum.label", "labelColor": "#b8bac0", "labelFontSize": 8.8, "labelPadding": 13, "ticks": false, "domain": false, "grid": true}}}},
            {"mark": {"type": "text", "color": "#131722", "align": "left", "baseline": "middle", "dx": 13, "dy": 1.3, "fontSize": 8.8},
             "encoding": {"x": {"value": "width"}, "text": {"field": "label"},
               "y": {"field": "value", "type": "quantitative", "title": null, "axis": {"orient": "right", "title": null, "format": ".5f", "labelOverlap": false, "values": [0.66, 0.665, 0.67, 0.675, 0.68, 0.685, 0.69, 0.695, 0.7, 0.705, 0.71, 0.715, 0.72, 0.725, 0.73, 0.735, 0.74], "labelExpr": "abs(datum.value - 0.7) < 0.0001 || abs(datum.value - 0.695) < 0.0001 ? '' : datum.label", "labelColor": "#b8bac0", "labelFontSize": 8.8, "labelPadding": 13, "ticks": false, "domain": false, "grid": true}}}}
          ]
        }
      ]
    },
    {
      "width": 880,
      "height": 123,
      "title": {
        "text": "MACD (close, 12, 26, 9)", "anchor": "start", "frame": "group", "orient": "top",
        "offset": -16, "dx": 5, "font": "Open Sans", "fontSize": 8.6, "fontWeight": "normal", "color": "#c8cad0"
      },
      "encoding": {
        "x": {
          "field": "i", "type": "quantitative",
          "scale": {"domain": [-0.52, 137.2], "nice": false, "zero": false},
          "axis": {
            "values": [8, 28, 50, 72, 93, 115], "title": null, "ticks": false, "domain": false, "grid": true,
            "labelExpr": "datum.value == 8 ? 'Feb' : datum.value == 28 ? 'Mar' : datum.value == 50 ? 'Apr' : datum.value == 72 ? 'May' : datum.value == 93 ? 'Jun' : 'Jul'",
            "labelColor": "#d1d4dc", "labelFontSize": 8.8, "labelFontWeight": 600, "labelPadding": 8, "labelFlush": false
          }
        }
      },
      "layer": [
        {
          "data": {"name": "bars"},
          "mark": {"type": "bar", "size": 5.3},
          "encoding": {
            "y": {
              "field": "hist", "type": "quantitative", "title": null,
              "scale": {"domain": [-0.00708, 0.01133], "nice": false, "zero": false},
              "axis": {"orient": "right", "title": null, "format": ".5f", "values": [-0.005, 0, 0.005, 0.01], "labelOverlap": false, "labelExpr": "datum.value == 0 ? '' : datum.label", "labelColor": "#b8bac0", "labelFontSize": 8.8, "labelPadding": 13, "ticks": false, "domain": false, "grid": true}
            },
            "y2": {"datum": 0},
            "color": {
              "field": "hc", "type": "nominal", "legend": null,
              "scale": {"domain": ["up+", "down+", "down-", "up-"], "range": ["#26a69a", "#b2dfdb", "#ff5252", "#ffcdd2"]}
            }
          }
        },
        {
          "data": {"name": "macd"},
          "mark": {"type": "line", "color": "#2962ff", "strokeWidth": 1.2, "interpolate": "monotone"},
          "encoding": {"y": {"field": "macd", "type": "quantitative", "title": null,
            "axis": {"orient": "right", "title": null, "format": ".5f", "values": [-0.005, 0, 0.005, 0.01], "labelOverlap": false, "labelExpr": "datum.value == 0 ? '' : datum.label", "labelColor": "#b8bac0", "labelFontSize": 8.8, "labelPadding": 13, "ticks": false, "domain": false, "grid": true}}}
        },
        {
          "data": {"name": "macd"},
          "mark": {"type": "line", "color": "#ff6d00", "strokeWidth": 1.2, "interpolate": "monotone"},
          "encoding": {"y": {"field": "signal", "type": "quantitative", "title": null,
            "axis": {"orient": "right", "title": null, "format": ".5f", "values": [-0.005, 0, 0.005, 0.01], "labelOverlap": false, "labelExpr": "datum.value == 0 ? '' : datum.label", "labelColor": "#b8bac0", "labelFontSize": 8.8, "labelPadding": 13, "ticks": false, "domain": false, "grid": true}}}
        },
        {
          "data": {"name": "mtags"},
          "transform": [{"filter": "datum.s == 'hist'"}],
          "layer": [
            {"mark": {"type": "rect", "color": "#b2dfdb", "xOffset": 7.5, "x2Offset": 48, "yOffset": -4.7, "y2Offset": 4.9},
             "encoding": {"x": {"value": "width"}, "x2": {"value": "width"}, "y2": {"field": "value"},
               "y": {"field": "value", "type": "quantitative", "title": null, "axis": {"orient": "right", "title": null, "format": ".5f", "values": [-0.005, 0, 0.005, 0.01], "labelOverlap": false, "labelExpr": "datum.value == 0 ? '' : datum.label", "labelColor": "#b8bac0", "labelFontSize": 8.8, "labelPadding": 13, "ticks": false, "domain": false, "grid": true}}}},
            {"mark": {"type": "text", "color": "#131722", "align": "left", "baseline": "middle", "dx": 13, "dy": 0.3, "fontSize": 8.8},
             "encoding": {"x": {"value": "width"}, "text": {"field": "label"},
               "y": {"field": "value", "type": "quantitative", "title": null, "axis": {"orient": "right", "title": null, "format": ".5f", "values": [-0.005, 0, 0.005, 0.01], "labelOverlap": false, "labelExpr": "datum.value == 0 ? '' : datum.label", "labelColor": "#b8bac0", "labelFontSize": 8.8, "labelPadding": 13, "ticks": false, "domain": false, "grid": true}}}}
          ]
        },
        {
          "data": {"name": "mtags"},
          "transform": [{"filter": "datum.s == 'macd'"}],
          "layer": [
            {"mark": {"type": "rect", "color": "#2962ff", "xOffset": 7.5, "x2Offset": 48, "yOffset": -0.4, "y2Offset": 10.2},
             "encoding": {"x": {"value": "width"}, "x2": {"value": "width"}, "y2": {"field": "value"},
               "y": {"field": "value", "type": "quantitative", "title": null, "axis": {"orient": "right", "title": null, "format": ".5f", "values": [-0.005, 0, 0.005, 0.01], "labelOverlap": false, "labelExpr": "datum.value == 0 ? '' : datum.label", "labelColor": "#b8bac0", "labelFontSize": 8.8, "labelPadding": 13, "ticks": false, "domain": false, "grid": true}}}},
            {"mark": {"type": "text", "color": "#ffffff", "align": "left", "baseline": "middle", "dx": 10, "dy": 4.9, "fontSize": 8.8},
             "encoding": {"x": {"value": "width"}, "text": {"field": "label"},
               "y": {"field": "value", "type": "quantitative", "title": null, "axis": {"orient": "right", "title": null, "format": ".5f", "values": [-0.005, 0, 0.005, 0.01], "labelOverlap": false, "labelExpr": "datum.value == 0 ? '' : datum.label", "labelColor": "#b8bac0", "labelFontSize": 8.8, "labelPadding": 13, "ticks": false, "domain": false, "grid": true}}}}
          ]
        },
        {
          "data": {"name": "mtags"},
          "transform": [{"filter": "datum.s == 'signal'"}],
          "layer": [
            {"mark": {"type": "rect", "color": "#ff6d00", "xOffset": 7.5, "x2Offset": 48, "yOffset": 5.6, "y2Offset": 17.3},
             "encoding": {"x": {"value": "width"}, "x2": {"value": "width"}, "y2": {"field": "value"},
               "y": {"field": "value", "type": "quantitative", "title": null, "axis": {"orient": "right", "title": null, "format": ".5f", "values": [-0.005, 0, 0.005, 0.01], "labelOverlap": false, "labelExpr": "datum.value == 0 ? '' : datum.label", "labelColor": "#b8bac0", "labelFontSize": 8.8, "labelPadding": 13, "ticks": false, "domain": false, "grid": true}}}},
            {"mark": {"type": "text", "color": "#ffffff", "align": "left", "baseline": "middle", "dx": 10, "dy": 11.4, "fontSize": 8.8},
             "encoding": {"x": {"value": "width"}, "text": {"field": "label"},
               "y": {"field": "value", "type": "quantitative", "title": null, "axis": {"orient": "right", "title": null, "format": ".5f", "values": [-0.005, 0, 0.005, 0.01], "labelOverlap": false, "labelExpr": "datum.value == 0 ? '' : datum.label", "labelColor": "#b8bac0", "labelFontSize": 8.8, "labelPadding": 13, "ticks": false, "domain": false, "grid": true}}}}
          ]
        }
      ]
    }
  ]
}
